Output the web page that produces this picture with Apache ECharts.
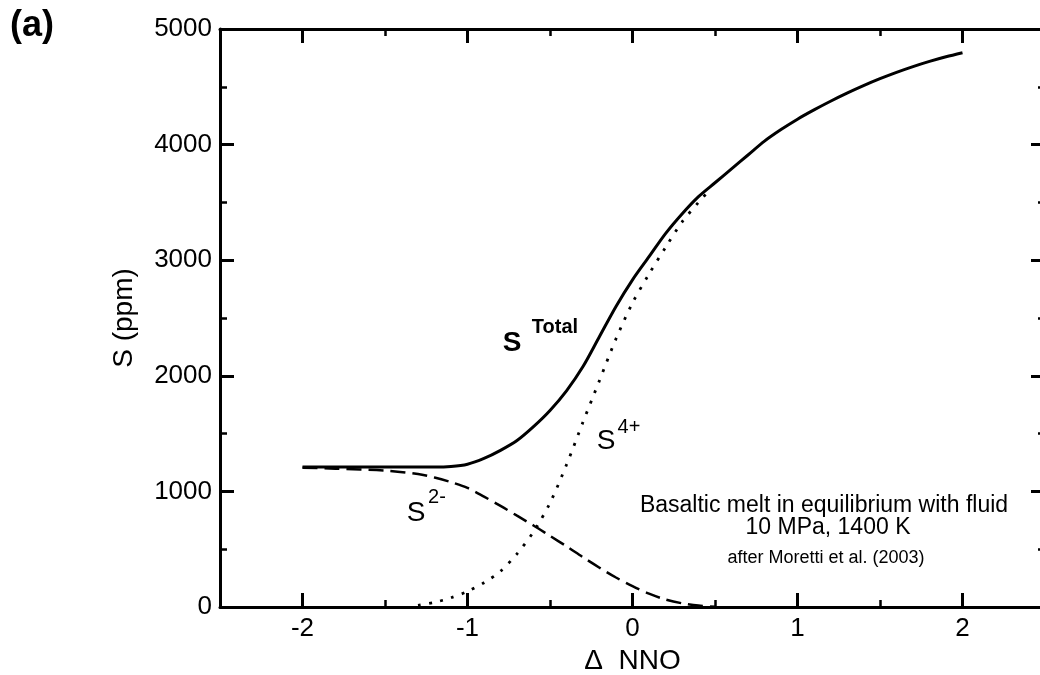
<!DOCTYPE html>
<html>
<head>
<meta charset="utf-8">
<script src="https://cdn.jsdelivr.net/npm/echarts@6/dist/echarts.min.js"></script>
<style>
  html, body { margin: 0; padding: 0; background: #fff; }
  #chart { width: 1040px; height: 675px; }
</style>
</head>
<body>
<div id="chart"></div>
<script>
// ---- data ----
const nnoTotal = [-2, -1.5, -1.2, -1.1, -1.0, -0.9, -0.8, -0.7, -0.6, -0.5, -0.4, -0.3, -0.2, -0.1, 0, 0.1, 0.2, 0.3, 0.4, 0.5, 0.6, 0.7, 0.8, 0.9, 1.0, 1.1, 1.2, 1.3, 1.4, 1.5, 1.6, 1.7, 1.8, 1.9, 2.0];
const sTotal   = [1210, 1210, 1210, 1215, 1235, 1285, 1355, 1440, 1560, 1700, 1870, 2080, 2340, 2600, 2830, 3030, 3230, 3400, 3550, 3670, 3790, 3910, 4030, 4130, 4220, 4300, 4375, 4445, 4510, 4570, 4625, 4675, 4720, 4760, 4795];

const nnoS4 = [-1.3, -1.2, -1.1, -1.0, -0.9, -0.8, -0.7, -0.6, -0.5, -0.4, -0.3, -0.2, -0.1, 0, 0.1, 0.2, 0.3, 0.4, 0.45];
const sS4   = [15, 40, 80, 135, 210, 310, 460, 650, 900, 1230, 1600, 1960, 2320, 2630, 2880, 3110, 3330, 3500, 3580];

const nnoS2 = [-2, -1.8, -1.5, -1.3, -1.2, -1.1, -1.0, -0.9, -0.8, -0.7, -0.6, -0.5, -0.4, -0.3, -0.2, -0.1, 0, 0.1, 0.2, 0.3, 0.4, 0.5];
const sS2   = [1205, 1197, 1180, 1150, 1120, 1080, 1030, 955, 875, 790, 705, 615, 525, 430, 340, 255, 180, 115, 65, 32, 12, 3];

const xMajorTicks = [-2, -1, 0, 1, 2];
const xMinorTicks = [-2.5, -1.5, -0.5, 0.5, 1.5, 2.5];
const xName = 'Δ  NNO';
const yName = 'S (ppm)';

// ---- chart ----
const FONT = 'Liberation Sans, Arial, Helvetica, sans-serif';
const zip = (xs, ys) => xs.map((x, i) => [x, ys[i]]);

const chart = echarts.init(document.getElementById('chart'), null, { renderer: 'canvas' });

const GRID = { left: 220, top: 29, width: 825, height: 578, containLabel: false, outerBoundsMode: 'none' };

function xAxisDef(gridIndex, pos, major, withLabels) {
  return {
    type: 'value', gridIndex: gridIndex, position: pos, min: -2.5, max: 2.5,
    axisLine: major ? { show: true, onZero: false, lineStyle: { color: '#000', width: 3 } } : { show: false, onZero: false },
    axisTick: {
      show: true, inside: true, length: major ? 14 : 7,
      customValues: major ? xMajorTicks : xMinorTicks,
      lineStyle: { color: '#000', width: major ? 3 : 2.5 }
    },
    axisLabel: withLabels
      ? { show: true, customValues: xMajorTicks, fontSize: 26, color: '#000', margin: 9, fontFamily: FONT }
      : { show: false },
    splitLine: { show: false },
    name: withLabels ? xName : '',
    nameLocation: 'middle', nameGap: 33,
    nameTextStyle: { fontSize: 28, color: '#000', fontFamily: FONT }
  };
}

function yAxisDef(gridIndex, pos, withLabels, visible) {
  return {
    type: 'value', gridIndex: gridIndex, position: pos, min: 0, max: 5000, interval: 1000,
    show: visible,
    axisLine: { show: true, onZero: false, lineStyle: { color: '#000', width: 3 } },
    axisTick: { show: true, inside: true, length: 14, lineStyle: { color: '#000', width: 3 } },
    minorTick: { show: true, splitNumber: 2, length: 7, lineStyle: { color: '#000', width: 2.5 } },
    axisLabel: withLabels
      ? { show: true, fontSize: 26, color: '#000', margin: 8, fontFamily: FONT, formatter: v => String(v) }
      : { show: false },
    splitLine: { show: false },
    minorSplitLine: { show: false },
    name: withLabels ? yName : '',
    nameLocation: 'middle', nameGap: 82, nameRotate: 90,
    nameTextStyle: { fontSize: 28, color: '#000', fontFamily: FONT }
  };
}

function txt(text, x, y, size, weight, align) {
  return {
    type: 'text', x: x, y: y,
    style: {
      text: text, fill: '#000', fontSize: size, fontWeight: weight || 'normal',
      fontFamily: FONT, align: align || 'center', verticalAlign: 'middle'
    }
  };
}

chart.setOption({
  animation: false,
  backgroundColor: '#fff',
  textStyle: { fontFamily: FONT },
  // grid 0: main frame with major ticks; grid 1: same rectangle, carries the x minor ticks
  grid: [Object.assign({}, GRID), Object.assign({}, GRID)],
  xAxis: [
    xAxisDef(0, 'bottom', true, true),
    xAxisDef(0, 'top', true, false),
    xAxisDef(1, 'bottom', false, false),
    xAxisDef(1, 'top', false, false)
  ],
  yAxis: [
    yAxisDef(0, 'left', true, true),
    yAxisDef(0, 'right', false, true),
    yAxisDef(1, 'left', false, false)
  ],
  series: [
    {
      name: 'S Total', type: 'line', xAxisIndex: 0, yAxisIndex: 0,
      data: zip(nnoTotal, sTotal), showSymbol: false, symbol: 'none',
      smooth: 0.3, lineStyle: { color: '#000', width: 3 }
    },
    {
      name: 'S2-', type: 'line', xAxisIndex: 0, yAxisIndex: 0,
      data: zip(nnoS2, sS2), showSymbol: false, symbol: 'none',
      smooth: 0.3, lineStyle: { color: '#000', width: 2.5, type: [15, 7] }
    },
    {
      name: 'S4+', type: 'line', xAxisIndex: 0, yAxisIndex: 0,
      data: zip(nnoS4, sS4), showSymbol: false, symbol: 'none',
      smooth: 0.3, lineStyle: { color: '#000', width: 2.8, type: [2.8, 8.5], cap: 'butt' }
    }
  ],
  graphic: [
    txt('(a)', 10, 26, 36, 'bold', 'left'),
    txt('S', 512, 343, 28, 'bold'),
    txt('Total', 555, 327, 20, 'bold'),
    txt('S', 606, 441, 28),
    txt('4+', 629, 427, 20),
    txt('S', 416, 513, 28),
    txt('2-', 437, 497, 20),
    txt('Basaltic melt in equilibrium with fluid', 824, 506, 23),
    txt('10 MPa, 1400 K', 828, 528, 23),
    txt('after Moretti et al. (2003)', 826, 558, 18)
  ]
});
</script>
</body>
</html>
